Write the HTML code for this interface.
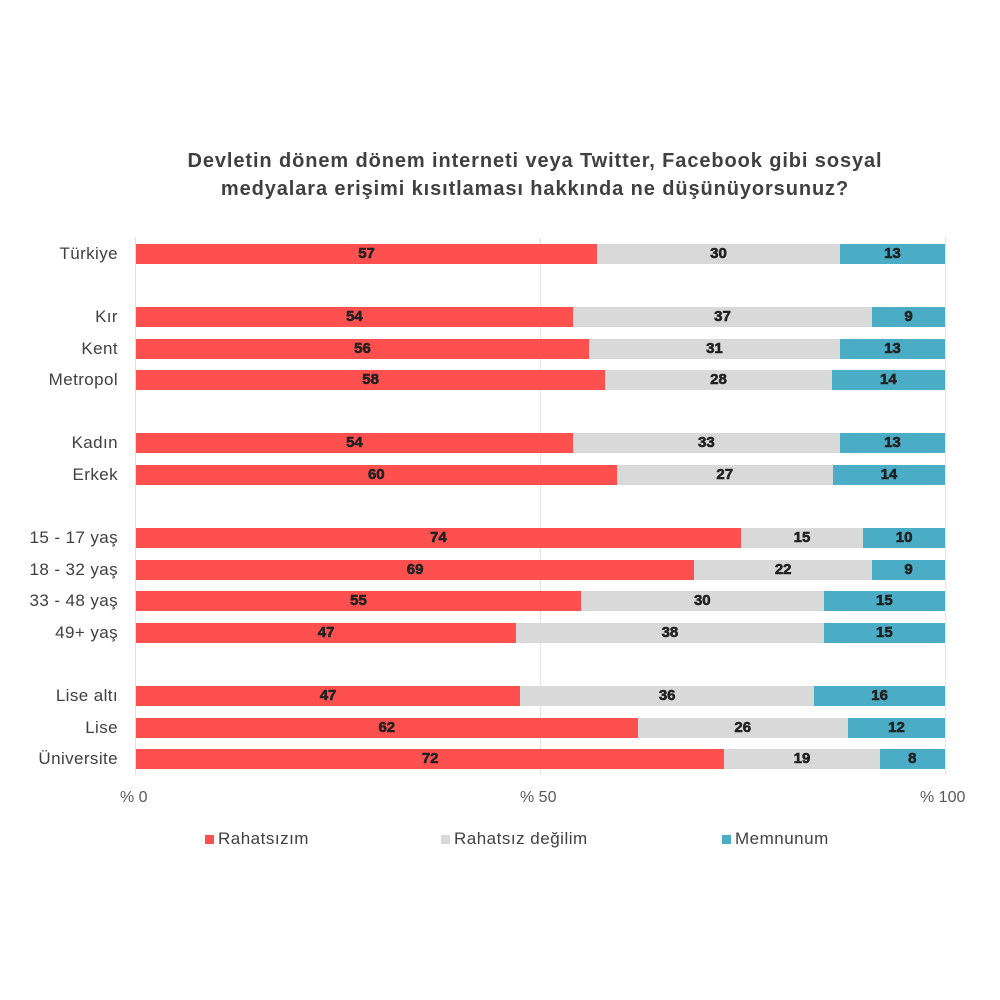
<!DOCTYPE html>
<html><head><meta charset="utf-8"><style>
body{margin:0;width:1000px;height:1000px;background:#fff;position:relative;font-family:"Liberation Sans",sans-serif;overflow:hidden}
.t{position:absolute;left:0;width:1070px;text-align:center;font-weight:bold;font-size:20px;letter-spacing:0.9px;color:#404040;line-height:28px;top:147px}
.lab{position:absolute;right:882px;font-size:17px;letter-spacing:0.4px;color:#404040;line-height:20px;white-space:nowrap}
.bar{position:absolute;left:136px;width:809px;height:20px;display:flex}
.bar div{height:20px;text-align:center;font-weight:900;font-size:15px;line-height:20px;color:#222;-webkit-text-stroke:0.6px #222}
.r{background:#FF5050}.g{background:#D9D9D9}.b{background:#4BACC6}
.grid{position:absolute;top:237px;height:538px;width:1px;background:#e2e2e2}
.ax{position:absolute;top:789px;font-size:16px;color:#595959}
.lg{position:absolute;top:829px;font-size:17px;letter-spacing:0.5px;color:#404040}
.lg span{display:inline-block;width:9px;height:9px;margin-right:4px;vertical-align:0}
</style></head><body>
<div class="t">Devletin dönem dönem interneti veya Twitter, Facebook gibi sosyal<br>medyalara erişimi kısıtlaması hakkında ne düşünüyorsunuz?</div>
<div class="grid" style="left:135px"></div>
<div class="grid" style="left:540px"></div>
<div class="grid" style="left:945px"></div>

<div class="lab" style="top:244px">Türkiye</div><div class="bar" style="top:244px"><div class="r" style="flex:57">57</div><div class="g" style="flex:30">30</div><div class="b" style="flex:13">13</div></div>
<div class="lab" style="top:307px">Kır</div><div class="bar" style="top:307px"><div class="r" style="flex:54">54</div><div class="g" style="flex:37">37</div><div class="b" style="flex:9">9</div></div>
<div class="lab" style="top:339px">Kent</div><div class="bar" style="top:339px"><div class="r" style="flex:56">56</div><div class="g" style="flex:31">31</div><div class="b" style="flex:13">13</div></div>
<div class="lab" style="top:370px">Metropol</div><div class="bar" style="top:370px"><div class="r" style="flex:58">58</div><div class="g" style="flex:28">28</div><div class="b" style="flex:14">14</div></div>
<div class="lab" style="top:433px">Kadın</div><div class="bar" style="top:433px"><div class="r" style="flex:54">54</div><div class="g" style="flex:33">33</div><div class="b" style="flex:13">13</div></div>
<div class="lab" style="top:465px">Erkek</div><div class="bar" style="top:465px"><div class="r" style="flex:60">60</div><div class="g" style="flex:27">27</div><div class="b" style="flex:14">14</div></div>
<div class="lab" style="top:528px">15 - 17 yaş</div><div class="bar" style="top:528px"><div class="r" style="flex:74">74</div><div class="g" style="flex:15">15</div><div class="b" style="flex:10">10</div></div>
<div class="lab" style="top:560px">18 - 32 yaş</div><div class="bar" style="top:560px"><div class="r" style="flex:69">69</div><div class="g" style="flex:22">22</div><div class="b" style="flex:9">9</div></div>
<div class="lab" style="top:591px">33 - 48 yaş</div><div class="bar" style="top:591px"><div class="r" style="flex:55">55</div><div class="g" style="flex:30">30</div><div class="b" style="flex:15">15</div></div>
<div class="lab" style="top:623px">49+ yaş</div><div class="bar" style="top:623px"><div class="r" style="flex:47">47</div><div class="g" style="flex:38">38</div><div class="b" style="flex:15">15</div></div>
<div class="lab" style="top:686px">Lise altı</div><div class="bar" style="top:686px"><div class="r" style="flex:47">47</div><div class="g" style="flex:36">36</div><div class="b" style="flex:16">16</div></div>
<div class="lab" style="top:718px">Lise</div><div class="bar" style="top:718px"><div class="r" style="flex:62">62</div><div class="g" style="flex:26">26</div><div class="b" style="flex:12">12</div></div>
<div class="lab" style="top:749px">Üniversite</div><div class="bar" style="top:749px"><div class="r" style="flex:72">72</div><div class="g" style="flex:19">19</div><div class="b" style="flex:8">8</div></div>

<div class="ax" style="left:120px">% 0</div>
<div class="ax" style="left:520px">% 50</div>
<div class="ax" style="left:920px">% 100</div>

<div class="lg" style="left:205px"><span class="r"></span>Rahatsızım</div>
<div class="lg" style="left:441px"><span class="g"></span>Rahatsız değilim</div>
<div class="lg" style="left:722px"><span class="b"></span>Memnunum</div>
</body></html>
